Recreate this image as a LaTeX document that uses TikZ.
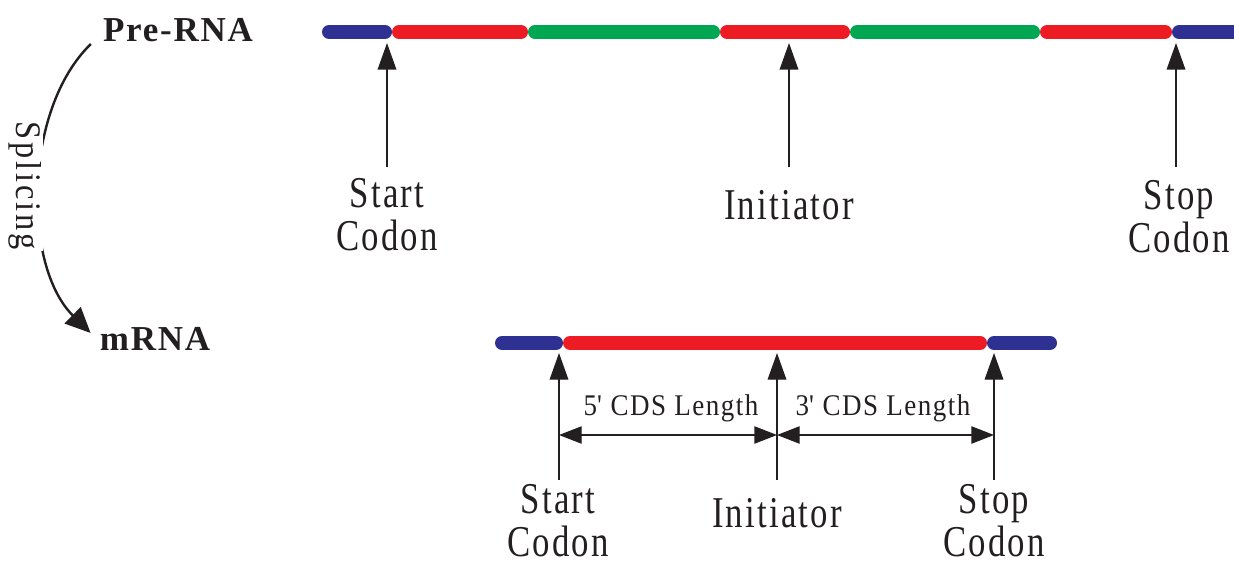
\documentclass[tikz,border=0pt]{standalone}
\usepackage{fontspec}
\usepackage{tikz}
\usetikzlibrary{arrows.meta}
\usepackage{xcolor}

\newfontfamily\lblfont[FakeStretch=0.79,LetterSpace=5]{Liberation Serif}
\newfontfamily\dimfont[FakeStretch=0.9,LetterSpace=5]{Liberation Serif}
\newfontfamily\splfont[FakeStretch=0.9,LetterSpace=8]{Liberation Serif}
\newfontfamily\molfont[LetterSpace=5]{Liberation Serif}

\definecolor{utrblue}{RGB}{46,49,146}
\definecolor{cdsred}{RGB}{237,28,36}
\definecolor{intgreen}{RGB}{0,166,81}
\definecolor{ink}{RGB}{35,31,32}

\tikzset{
  seg/.style={line width=10.5pt, line cap=round},
  upArrow/.style={draw=ink, line width=1pt, -{Triangle[length=20pt,width=14pt]}},
  dimArrow/.style={draw=ink, line width=1pt, {Triangle[length=17pt,width=13pt]}-{Triangle[length=17pt,width=13pt]}},
  siteLabel/.style={inner sep=0pt, anchor=north, align=center, text=ink, font=\lblfont\fontsize{33}{32}\selectfont},
  dimLabel/.style={inner sep=0pt, anchor=base, text=ink, font=\dimfont\fontsize{22.5}{24}\selectfont},
  molLabel/.style={inner sep=0pt, anchor=base, text=ink, font=\molfont\bfseries\fontsize{26.25}{28}\selectfont},
}

\begin{document}
\begin{tikzpicture}[x=0.75pt,y=0.75pt,yscale=-1,xscale=1]
\useasboundingbox (0,0) rectangle (1234,563);

% pre-RNA strand
\draw[seg, utrblue]  (329,32) -- (385,32);
\draw[seg, cdsred]   (399,32) -- (521,32);
\draw[seg, intgreen] (535,32) -- (713,32);
\draw[seg, cdsred]   (727,32) -- (843,32);
\draw[seg, intgreen] (857,32) -- (1033,32);
\draw[seg, cdsred]   (1047,32) -- (1165,32);
\draw[seg, utrblue]  (1179,32) -- (1250,32);

% mRNA strand
\draw[seg, utrblue] (502,343) -- (556,343);
\draw[seg, cdsred]  (570,343) -- (980,343);
\draw[seg, utrblue] (994,343) -- (1050,343);

% Text Node
\node[molLabel] (pre) at (178,42) {Pre-RNA};
\node[molLabel] (mrna) at (155,350) {mRNA};

% splicing step
\draw[ink, line width=1.8pt, -{Triangle[length=19pt,width=17pt]}] ([shift={(-12,2)}]pre.base west) .. controls +(-68,66) and +(-68,-67) .. ([shift={(-9,-17)}]mrna.base west);
\node[rotate=-90, fill=white, inner sep=1pt, text=ink, font=\splfont\fontsize{27}{28}\selectfont] (splice) at (25,186) {Splicing};

% sites on the pre-RNA
\coordinate (tipA) at (387,43);
\coordinate (tailA) at (387,167);
\coordinate (tipB) at (789,43);
\coordinate (tailB) at (789,167);
\coordinate (tipC) at (1176,43);
\coordinate (tailC) at (1176,167);
\draw[upArrow] (tailA) -- (tipA);
\draw[upArrow] (tailB) -- (tipB);
\draw[upArrow] (tailC) -- (tipC);

\node[siteLabel] (startTop) at (387,178) {Start\\Codon};
\node[siteLabel] (initTop) at (789,190) {Initiator};
\node[siteLabel] (stopTop) at (1179,180) {Stop\\Codon};

% sites on the mRNA
\coordinate (tipD) at (559,353);
\coordinate (tailD) at (559,480);
\coordinate (tipE) at (777,353);
\coordinate (tailE) at (777,480);
\coordinate (tipF) at (994,353);
\coordinate (tailF) at (994,480);
\draw[upArrow] (tailD) -- (tipD);
\draw[upArrow] (tailE) -- (tipE);
\draw[upArrow] (tailF) -- (tipF);

\node[siteLabel] (startBot) at (558,484) {Start\\Codon};
\node[siteLabel] (initBot) at (777,498) {Initiator};
\node[siteLabel] (stopBot) at (994,484) {Stop\\Codon};

% CDS lengths
\coordinate (dimD) at (559,435);
\coordinate (dimE) at (777,435);
\coordinate (dimF) at (994,435);
\draw[dimArrow] (dimD) -- (dimE);
\draw[dimArrow] (dimE) -- (dimF);

\node[dimLabel] (fivePrime) at (671,415) {5\textquotesingle\ CDS Length};
\node[dimLabel] (threePrime) at (883,415) {3\textquotesingle\ CDS Length};

\end{tikzpicture}
\end{document}
